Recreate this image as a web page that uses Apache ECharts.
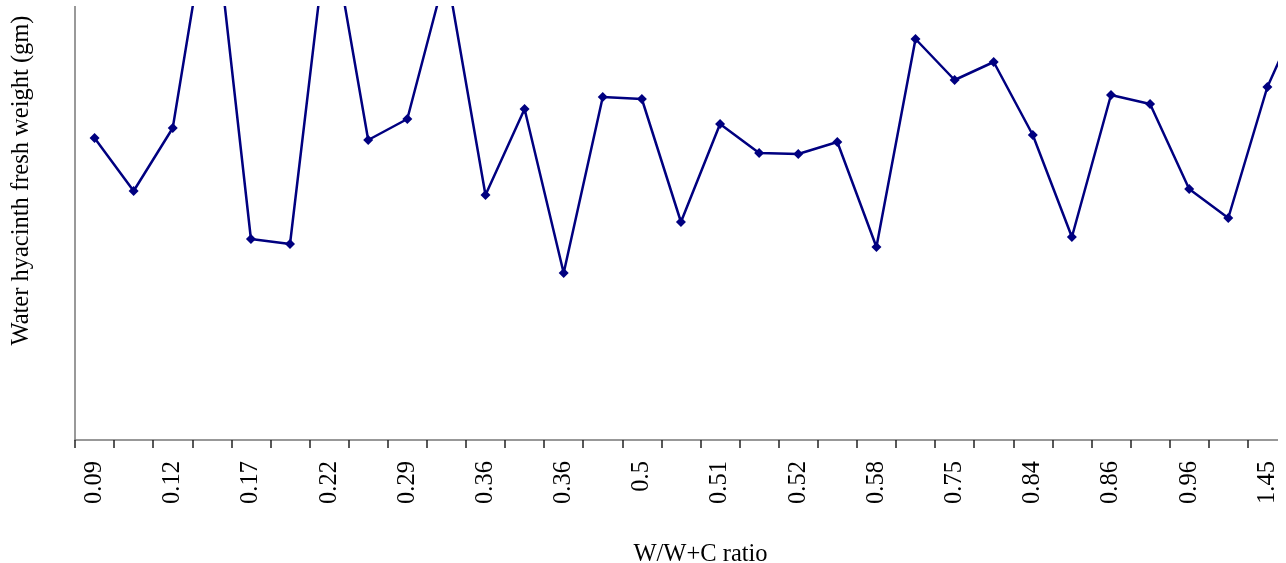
<!DOCTYPE html>
<html>
<head>
<meta charset="utf-8">
<script src="https://cdn.jsdelivr.net/npm/echarts@6/dist/echarts.min.js"></script>
<style>
html,body{margin:0;padding:0;background:#fff;width:1286px;height:563px;overflow:hidden;}
#wrap{position:absolute;left:0;top:6px;width:1278px;height:557px;overflow:hidden;}
#c{position:absolute;left:0;top:-85px;width:1326px;height:642px;}
</style>
</head>
<body>
<div id="wrap"><div id="c"></div></div>
<script>
// W/W+C ratio categories (every other one is labelled on the axis)
const categories = ["0.09","0.1","0.12","0.14","0.17","0.2","0.22","0.26","0.29","0.33",
  "0.36","0.36","0.36","0.43","0.5","0.5","0.51","0.51","0.52","0.55",
  "0.58","0.68","0.75","0.8","0.84","0.85","0.86","0.9","0.96","1.2",
  "1.45","1.7"];
// Water hyacinth fresh weight (gm)
const weights = [302,249,312,550,201,196,525,300,321,470,
  245,331,167,343,341,218,316,287,286,298,
  193,401,360,378,305,203,345,336,251,222,
  353,440];

const chart = echarts.init(document.getElementById('c'), null, {renderer:'canvas'});
const serif = "'Liberation Serif','Times New Roman',serif";
chart.setOption({
  animation:false,
  backgroundColor:'#fff',
  grid:{left:75,right:0,top:0,bottom:123,containLabel:false,outerBoundsMode:'none'},
  xAxis:{
    type:'category',
    data:categories,
    boundaryGap:true,
    name:'W/W+C ratio',
    nameLocation:'middle',
    nameGap:102,
    nameTextStyle:{fontFamily:serif,fontSize:24.5,color:'#000'},
    axisLine:{lineStyle:{color:'#777',width:1.5}},
    axisTick:{show:true,interval:0,length:8,lineStyle:{color:'#222',width:1.5}},
    axisLabel:{interval:1,rotate:90,margin:21,fontFamily:serif,fontSize:24.5,color:'#000'}
  },
  yAxis:{
    type:'value',
    min:0,
    max:519,
    name:'Water hyacinth fresh weight (gm)',
    nameLocation:'middle',
    nameGap:41,
    nameTextStyle:{fontFamily:serif,fontSize:24.5,color:'#000'},
    axisLine:{show:true,lineStyle:{color:'#777',width:1.5}},
    axisTick:{show:false},
    axisLabel:{show:false},
    splitLine:{show:false}
  },
  series:[{
    type:'line',
    data:weights,
    symbol:'diamond',
    symbolSize:10,
    clip:true,
    lineStyle:{color:'#000080',width:2.5},
    itemStyle:{color:'#000080'}
  }]
});
</script>
</body>
</html>
